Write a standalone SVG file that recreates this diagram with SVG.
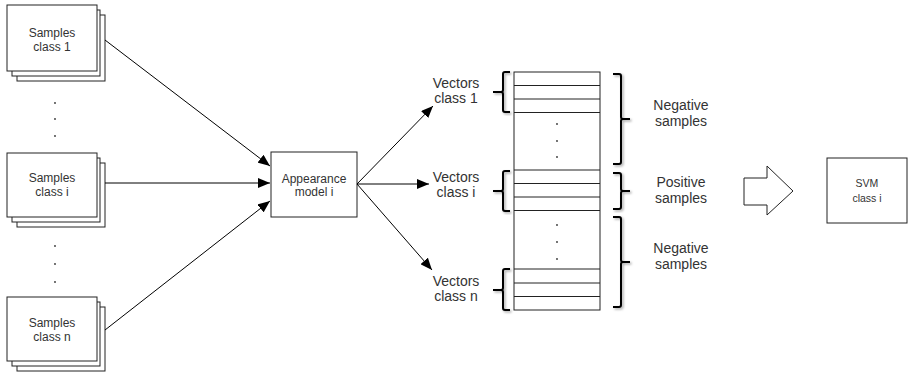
<svg xmlns="http://www.w3.org/2000/svg" width="914" height="375" viewBox="0 0 914 375">
  <style>
    .box { fill: #fff; stroke: #222; stroke-width: 1; }
    .lbl { font-family: "Liberation Sans", Arial, sans-serif; font-size: 12px; fill: #333; text-anchor: middle; }
    .big { font-size: 14px; }
    .sm { font-size: 10.5px; }
    .edge { stroke: #000; stroke-width: 1; fill: none; marker-end: url(#arrow); }
    .brace { stroke: #000; stroke-width: 2; fill: none; filter: url(#shade); }
    .row { stroke: #222; stroke-width: 1; }
    .dot { fill: #333; }
  </style>
  <defs>
    <marker id="arrow" viewBox="0 0 12 10" refX="12" refY="5" markerWidth="12" markerHeight="10" markerUnits="userSpaceOnUse" orient="auto">
      <path d="M0,0 L12,5 L0,10 Z" fill="#000"/>
    </marker>
    <filter id="shade" x="-50%" y="-10%" width="200%" height="120%">
      <feDropShadow dx="1.5" dy="1.5" stdDeviation="1.2" flood-color="#000" flood-opacity="0.35"/>
    </filter>
  </defs>

  <!-- sample stacks -->
  <g id="samples-1">
    <rect class="box" x="17" y="15" width="88" height="66"/>
    <rect class="box" x="12" y="10" width="88" height="66"/>
    <rect class="box" x="7" y="5" width="90" height="66"/>
    <text class="lbl" x="52" y="37">Samples</text>
    <text class="lbl" x="52" y="51">class 1</text>
  </g>
  <g id="dots-upper">
    <circle class="dot" cx="55" cy="103" r="0.9"/>
    <circle class="dot" cx="55" cy="119" r="0.9"/>
    <circle class="dot" cx="55" cy="136" r="0.9"/>
  </g>
  <g id="samples-i">
    <rect class="box" x="17" y="163" width="88" height="64"/>
    <rect class="box" x="12" y="158" width="88" height="64"/>
    <rect class="box" x="7" y="153" width="90" height="64"/>
    <text class="lbl" x="52" y="182">Samples</text>
    <text class="lbl" x="52" y="196">class i</text>
  </g>
  <g id="dots-lower">
    <circle class="dot" cx="55" cy="246" r="0.9"/>
    <circle class="dot" cx="55" cy="264" r="0.9"/>
    <circle class="dot" cx="55" cy="282" r="0.9"/>
  </g>
  <g id="samples-n">
    <rect class="box" x="17" y="307" width="88" height="64"/>
    <rect class="box" x="12" y="302" width="88" height="64"/>
    <rect class="box" x="7" y="297" width="90" height="64"/>
    <text class="lbl" x="52" y="327">Samples</text>
    <text class="lbl" x="52" y="341">class n</text>
  </g>

  <!-- appearance model -->
  <g id="appearance-model">
    <rect class="box" x="271" y="152" width="86" height="65"/>
    <text class="lbl" x="314" y="183">Appearance</text>
    <text class="lbl" x="314" y="196">model i</text>
  </g>

  <!-- vector labels -->
  <g id="vectors-1">
    <text class="lbl big" x="456" y="88">Vectors</text>
    <text class="lbl big" x="456" y="103">class 1</text>
  </g>
  <g id="vectors-i">
    <text class="lbl big" x="456" y="182">Vectors</text>
    <text class="lbl big" x="456" y="197">class i</text>
  </g>
  <g id="vectors-n">
    <text class="lbl big" x="456" y="286">Vectors</text>
    <text class="lbl big" x="456" y="301">class n</text>
  </g>

  <!-- training matrix -->
  <g id="matrix">
    <rect class="box" x="514" y="72" width="86" height="238"/>
    <line class="row" x1="514" y1="85.5" x2="600" y2="85.5"/>
    <line class="row" x1="514" y1="99" x2="600" y2="99"/>
    <line class="row" x1="514" y1="112.5" x2="600" y2="112.5"/>
    <line class="row" x1="514" y1="170" x2="600" y2="170"/>
    <line class="row" x1="514" y1="183.5" x2="600" y2="183.5"/>
    <line class="row" x1="514" y1="197" x2="600" y2="197"/>
    <line class="row" x1="514" y1="210.5" x2="600" y2="210.5"/>
    <line class="row" x1="514" y1="269" x2="600" y2="269"/>
    <line class="row" x1="514" y1="283" x2="600" y2="283"/>
    <line class="row" x1="514" y1="296.5" x2="600" y2="296.5"/>
    <circle class="dot" cx="557" cy="124" r="0.9"/>
    <circle class="dot" cx="557" cy="141" r="0.9"/>
    <circle class="dot" cx="557" cy="157" r="0.9"/>
    <circle class="dot" cx="557" cy="225" r="0.9"/>
    <circle class="dot" cx="557" cy="242" r="0.9"/>
    <circle class="dot" cx="557" cy="259" r="0.9"/>
  </g>

  <!-- left braces -->
  <g id="braces-left">
    <path class="brace" d="M510,72 H505 Q503,72 503,74 V90 Q503,92 501,92 H493 M501,92 Q503,92 503,94 V110 Q503,112 505,112 H510"/>
    <path class="brace" d="M510,171 H505 Q503,171 503,173 V189 Q503,191 501,191 H493 M501,191 Q503,191 503,193 V209 Q503,211 505,211 H510"/>
    <path class="brace" d="M510,269 H505 Q503,269 503,271 V288 Q503,290 501,290 H493 M501,290 Q503,290 503,292 V308 Q503,310 505,310 H510"/>
  </g>

  <!-- right braces -->
  <g id="braces-right">
    <path class="brace" d="M613,74 H619 Q621,74 621,76 V117 Q621,119 623,119 H630 M623,119 Q621,119 621,121 V162 Q621,164 619,164 H613"/>
    <path class="brace" d="M613,173 H619 Q621,173 621,175 V189 Q621,191 623,191 H630 M623,191 Q621,191 621,193 V207 Q621,209 619,209 H613"/>
    <path class="brace" d="M613,217 H619 Q621,217 621,219 V260 Q621,262 623,262 H630 M623,262 Q621,262 621,264 V305 Q621,307 619,307 H613"/>
  </g>

  <!-- sample labels -->
  <g id="negative-upper">
    <text class="lbl big" x="681" y="110">Negative</text>
    <text class="lbl big" x="681" y="126">samples</text>
  </g>
  <g id="positive">
    <text class="lbl big" x="681" y="187">Positive</text>
    <text class="lbl big" x="681" y="203">samples</text>
  </g>
  <g id="negative-lower">
    <text class="lbl big" x="681" y="253">Negative</text>
    <text class="lbl big" x="681" y="269">samples</text>
  </g>

  <!-- block arrow to classifier -->
  <g id="block-arrow">
    <path d="M744,178 H767 V166 L793,191 L767,215 V205 H744 Z" fill="#fff" stroke="#222" stroke-width="1"/>
  </g>

  <!-- classifier -->
  <g id="svm">
    <rect class="box" x="827" y="158" width="80" height="65"/>
    <text class="lbl sm" x="867" y="187">SVM</text>
    <text class="lbl sm" x="867" y="202">class i</text>
  </g>

  <!-- connectors -->
  <g id="connectors">
    <line class="edge" x1="105" y1="40" x2="270" y2="166"/>
    <line class="edge" x1="105" y1="183" x2="270" y2="183"/>
    <line class="edge" x1="105" y1="330" x2="270" y2="201"/>
    <line class="edge" x1="357" y1="184" x2="433" y2="106"/>
    <line class="edge" x1="357" y1="184" x2="429" y2="184"/>
    <line class="edge" x1="357" y1="184" x2="432" y2="270"/>
  </g>
</svg>
